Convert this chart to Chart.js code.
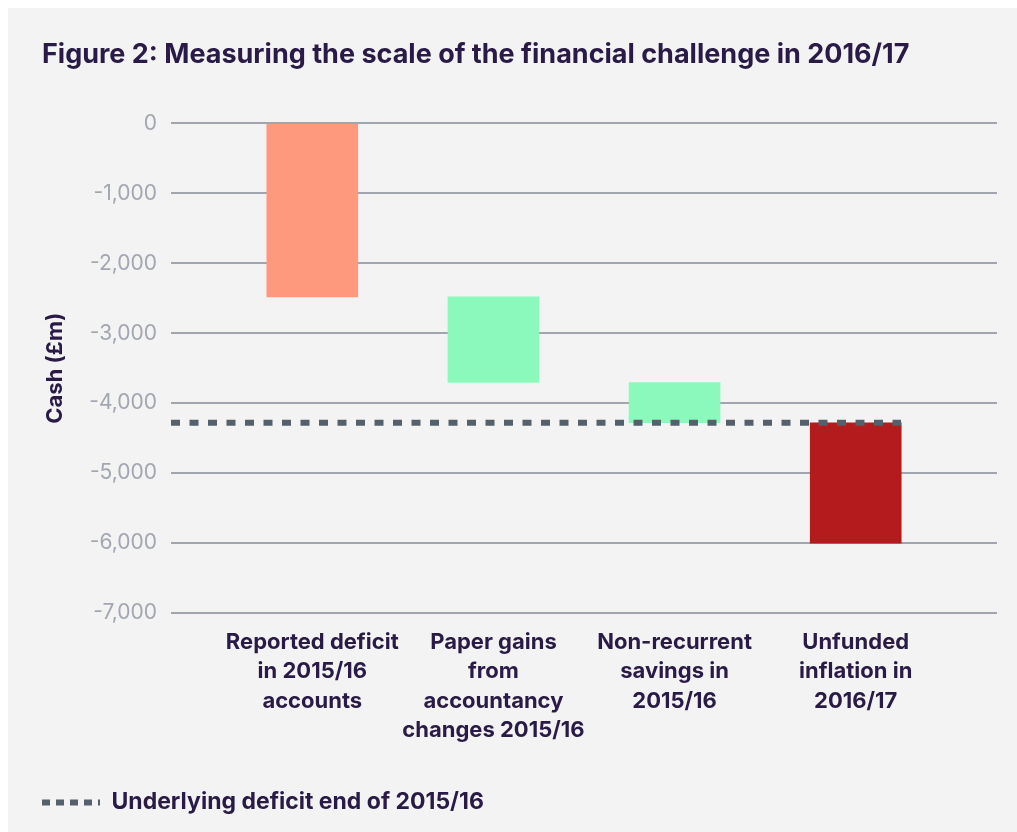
<!DOCTYPE html>
<html>
<head>
<meta charset="utf-8">
<script src="https://cdn.jsdelivr.net/npm/chart.js@4"></script>
<style>
  body { margin: 0; background: #ffffff; }
  #panel { position: absolute; left: 8px; top: 8px; width: 1009px; height: 824px; background: #f3f3f3; }
</style>
</head>
<body>
<div id="panel"><canvas id="chart" width="1009" height="824"></canvas></div>
<script>
// categories (multi-line tick labels)
var categories = [
    ['Reported deficit', 'in 2015/16', 'accounts'],
    ['Paper gains', 'from', 'accountancy', 'changes 2015/16'],
    ['Non-recurrent', 'savings in', '2015/16'],
    ['Unfunded', 'inflation in', '2016/17']
];
// floating bars: [start, end] in £m
var barStart = [0, -2480, -3705, -4280];
var barEnd = [-2480, -3705, -4280, -6000];
var barColors = ['#ff997e', '#8cf9bc', '#8cf9bc', '#b31b1d'];
// dashed reference line
var underlyingDeficit = -4280;
var underlyingLabel = 'Underlying deficit end of 2015/16';
var yTicks = [0, -1000, -2000, -3000, -4000, -5000, -6000, -7000];

var purple = '#2a1a46';
var xMin = -0.78, xMax = categories.length - 1 + 0.78;

var barData = categories.map(function(c, i) {
    return { x: i, y: [barStart[i], barEnd[i]] };
});
var lineData = [
    { x: xMin, y: underlyingDeficit },
    { x: categories.length - 0.75, y: underlyingDeficit }
];

new Chart(document.getElementById('chart'), {
    type: 'bar',
    data: {
        datasets: [
            {
                type: 'line',
                label: underlyingLabel,
                data: lineData,
                borderColor: '#56606b',
                backgroundColor: '#56606b',
                borderWidth: 6,
                borderDash: [9, 9.5],
                pointRadius: 0,
                pointStyle: 'line',
                order: 0
            },
            {
                label: 'bars',
                data: barData,
                backgroundColor: barColors,
                barThickness: 91,
                borderSkipped: false,
                order: 1
            }
        ]
    },
    options: {
        responsive: false,
        animation: false,
        layout: { padding: { left: 34, right: 20, top: 0, bottom: 8 } },
        plugins: {
            title: {
                display: true,
                text: 'Figure 2: Measuring the scale of the financial challenge in 2016/17',
                align: 'start',
                color: purple,
                font: { family: 'Inter', size: 27, weight: 'bold' },
                padding: { top: 31, bottom: 52 }
            },
            legend: {
                position: 'bottom',
                align: 'start',
                labels: {
                    usePointStyle: true,
                    pointStyleWidth: 58,
                    boxHeight: 6,
                    padding: 0,
                    color: purple,
                    font: { family: 'Inter', size: 23, weight: 'bold' },
                    filter: function(item) { return item.text !== 'bars'; },
                    generateLabels: function(chart) {
                        var items = Chart.defaults.plugins.legend.labels.generateLabels(chart);
                        items.forEach(function(it) { it.lineDash = [8, 6]; });
                        return items;
                    }
                }
            },
            tooltip: { enabled: false }
        },
        scales: {
            x: {
                type: 'linear',
                min: xMin,
                max: xMax,
                offset: false,
                grid: { display: false },
                border: { display: false },
                afterBuildTicks: function(axis) {
                    axis.ticks = categories.map(function(c, i) { return { value: i }; });
                },
                afterFit: function(axis) { axis.height = 178; },
                ticks: {
                    color: purple,
                    font: { family: 'Inter', size: 22, weight: 'bold', lineHeight: 1.33 },
                    padding: 7,
                    maxRotation: 0,
                    autoSkip: false,
                    callback: function(v) { return categories[v]; }
                }
            },
            y: {
                min: -7000,
                max: 0,
                afterBuildTicks: function(axis) {
                    axis.ticks = yTicks.map(function(v) { return { value: v }; });
                },
                afterFit: function(axis) { axis.width = 129; },
                grid: { color: '#a1a5ae', lineWidth: 2, drawTicks: false },
                border: { display: false },
                ticks: {
                    color: '#a2a6b0',
                    font: { family: 'Inter', size: 21 },
                    padding: 14,
                    callback: function(v) { return v.toLocaleString('en-GB'); }
                },
                title: {
                    display: true,
                    text: 'Cash (£m)',
                    color: purple,
                    font: { family: 'Inter', size: 22, weight: 'bold' },
                    padding: { top: 0, bottom: 0 }
                }
            }
        }
    }
});
</script>
</body>
</html>
